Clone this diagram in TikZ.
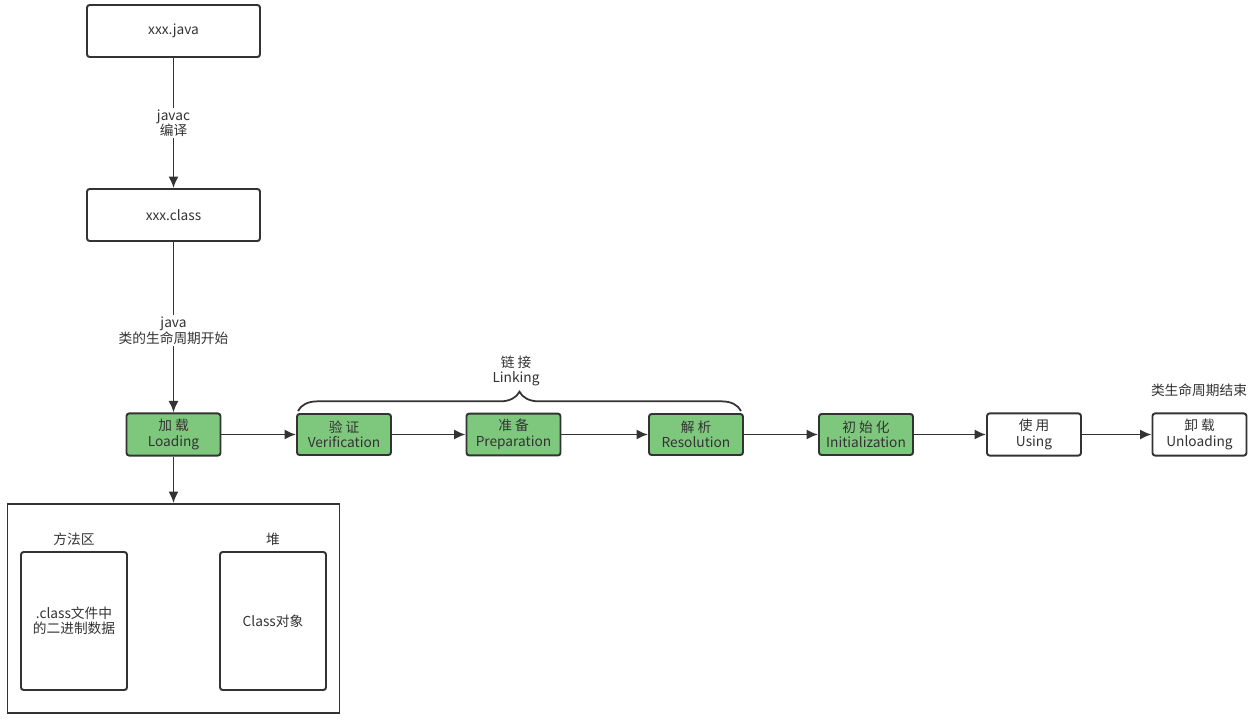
\documentclass[tikz,border=0pt]{standalone}
\usepackage{fontspec}
\setmainfont{Noto Sans CJK SC}
\usepackage{xcolor}
\usetikzlibrary{positioning,arrows.meta,decorations.pathreplacing}
\definecolor{stagegreen}{RGB}{126,200,126}
\definecolor{edgegray}{RGB}{51,51,51}

\begin{document}
\begin{tikzpicture}[x=0.02cm,y=-0.02cm,
  box/.style={draw=edgegray,line width=1.1pt,rounded corners=1.5pt,fill=white,align=center,font=\fontsize{7.8}{8.8}\selectfont,text=edgegray},
  filebox/.style={box,minimum width=3.46cm,minimum height=1.04cm},
  stage/.style={box,minimum width=1.88cm,minimum height=0.82cm},
  done/.style={stage,fill=stagegreen},
  memory/.style={box,minimum width=2.12cm,minimum height=2.76cm},
  lbl/.style={fill=white,align=center,inner sep=1pt,font=\fontsize{7.8}{8.8}\selectfont,text=edgegray},
  arrow/.style={-{Latex[length=2.3mm,width=2mm]},draw=edgegray,line width=1pt}]
\useasboundingbox (0,0) rectangle (1255,723);
\node[filebox] (java) at (173.5,31) {xxx.java};
\node[filebox] (cls) at (173.5,215) {xxx.class};
\node[done] (load) at (173.5,434.5) {加 载\\Loading};
\node[done] (verify) at (344,434.5) {验 证\\Verification};
\node[done] (prepare) at (513.5,434.5) {准 备\\Preparation};
\node[done] (resolve) at (696,434.5) {解 析\\Resolution};
\node[done] (init) at (866,434.5) {初 始 化\\Initialization};
\node[stage] (use) at (1034,434.5) {使 用\\Using};
\node[stage] (unload) at (1199.5,434.5) {卸 载\\Unloading};
\node[lbl] (endtxt) at (1199,390) {类生命周期结束};
% linking brace
\coordinate (lkA) at (298,411);
\coordinate (lkB) at (741,411);
\draw[edgegray,line width=1pt,decorate,decoration={brace,amplitude=11pt}] (lkA) -- (lkB);
\node[lbl] (linking) at (516,371) {链 接\\Linking};
% memory
\node[draw=edgegray,line width=1.1pt,minimum width=6.64cm,minimum height=4.18cm] (area) at (173.5,608.5) {};
\node[memory] (method) at (74,621) {.class文件中\\的二进制数据};
\node[memory] (heap) at (273,621) {Class对象};
\node[lbl] (methodtxt) at (74,539) {方法区};
\node[lbl] (heaptxt) at (273,539) {堆};
\draw[arrow] (java) -- node[lbl]{javac\\编译} (cls);
\draw[arrow] (cls) -- node[lbl,pos=0.52]{java\\类的生命周期开始} (load);
\draw[arrow] (load) -- (area);
\draw[arrow] (load) -- (verify); \draw[arrow] (verify) -- (prepare); \draw[arrow] (prepare) -- (resolve);
\draw[arrow] (resolve) -- (init); \draw[arrow] (init) -- (use); \draw[arrow] (use) -- (unload);
\end{tikzpicture}
\end{document}
